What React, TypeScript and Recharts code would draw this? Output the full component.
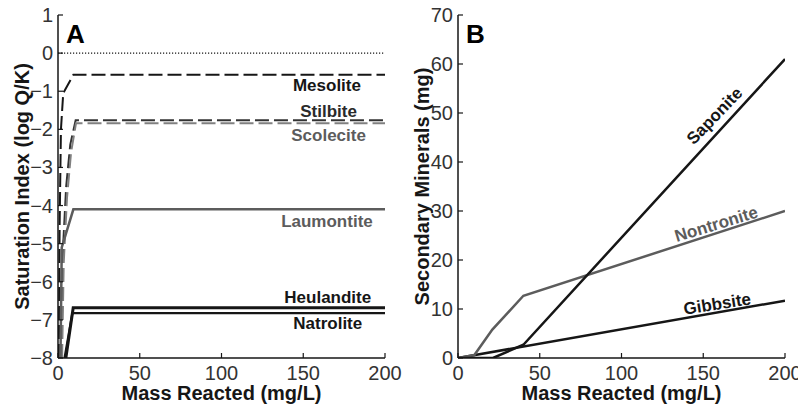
import React from "react";
import {
  LineChart,
  Line,
  XAxis,
  YAxis,
  ReferenceLine,
  ReferenceDot,
  Label,
} from "recharts";

const FONT = "'Liberation Sans', Arial, Helvetica, sans-serif";
const INK = "#161616";
const GREY = "#5c5c5c";
const TICK_LEN = 5;

// shared x axis (mass reacted, mg/L)
const massTicks = [0, 50, 100, 150, 200];

// panel A: saturation index (log Q/K)
const siTicks = [-8, -7, -6, -5, -4, -3, -2, -1, 0, 1];
const mesolite = [
  { x: 0.5, y: -8 },
  { x: 1, y: -4.5 },
  { x: 1.8, y: -2 },
  { x: 3.2, y: -1.05 },
  { x: 9.4, y: -0.57 },
  { x: 200, y: -0.57 },
];
const stilbite = [
  { x: 2, y: -8 },
  { x: 3.2, y: -5 },
  { x: 5, y: -3.5 },
  { x: 7.5, y: -2.4 },
  { x: 10.8, y: -1.76 },
  { x: 200, y: -1.76 },
];
const scolecite = [
  { x: 2.5, y: -8 },
  { x: 3.5, y: -5.5 },
  { x: 5.5, y: -3.8 },
  { x: 8, y: -2.6 },
  { x: 11, y: -1.84 },
  { x: 200, y: -1.84 },
];
const laumontite = [
  { x: 1.5, y: -8 },
  { x: 2.3, y: -5.1 },
  { x: 9.4, y: -4.1 },
  { x: 200, y: -4.1 },
];
const heulandite = [
  { x: 4.8, y: -8 },
  { x: 9.3, y: -6.68 },
  { x: 200, y: -6.68 },
];
const natrolite = [
  { x: 4, y: -8 },
  { x: 8.8, y: -6.82 },
  { x: 200, y: -6.82 },
];
const zeoliteTags = [
  { name: "Mesolite", x: 164.5, y: -0.86, color: INK },
  { name: "Stilbite", x: 165.5, y: -1.54, color: "#2a2a2a" },
  { name: "Scolecite", x: 165.5, y: -2.15, color: GREY },
  { name: "Laumontite", x: 164.5, y: -4.43, color: GREY },
  { name: "Heulandite", x: 165, y: -6.4, color: INK },
  { name: "Natrolite", x: 165, y: -7.09, color: INK },
];

// panel B: secondary minerals (mg)
const mineralTicks = [0, 10, 20, 30, 40, 50, 60, 70];
const saponite = [
  { x: 0, y: 0 },
  { x: 21.4, y: 0 },
  { x: 40, y: 2.7 },
  { x: 200, y: 61 },
];
const nontronite = [
  { x: 0, y: 0 },
  { x: 10, y: 0.6 },
  { x: 21, y: 5.8 },
  { x: 40, y: 12.7 },
  { x: 200, y: 30 },
];
const gibbsite = [
  { x: 0, y: 0 },
  { x: 200, y: 11.7 },
];
const mineralTags = [
  { name: "Saponite", x: 157, y: 49.4, angle: -46, color: INK },
  { name: "Nontronite", x: 158, y: 27.3, angle: -17, color: GREY },
  { name: "Gibbsite", x: 158.5, y: 11.0, angle: -9, color: INK },
];

const fmt = (v: number) => (v < 0 ? `\u2212${Math.abs(v)}` : `${v}`);

function BottomTick(props: any) {
  const { x, y, payload } = props;
  return (
    <g>
      <line x1={x} y1={y} x2={x} y2={y - TICK_LEN} stroke={INK} strokeWidth={1.2} />
      <text
        x={x}
        y={y + 22}
        textAnchor="middle"
        fontSize={20}
        fontFamily={FONT}
        fill="#333"
      >
        {fmt(payload.value)}
      </text>
    </g>
  );
}

function TopTick(props: any) {
  const { x, y } = props;
  return <line x1={x} y1={y} x2={x} y2={y + TICK_LEN} stroke={INK} strokeWidth={1.2} />;
}

function LeftTick(props: any) {
  const { x, y, payload } = props;
  return (
    <g>
      <line x1={x} y1={y} x2={x + TICK_LEN} y2={y} stroke={INK} strokeWidth={1.2} />
      <text
        x={x - 5}
        y={y + 7}
        textAnchor="end"
        fontSize={20}
        fontFamily={FONT}
        fill="#333"
      >
        {fmt(payload.value)}
      </text>
    </g>
  );
}

function RightTick(props: any) {
  const { x, y } = props;
  return <line x1={x} y1={y} x2={x - TICK_LEN} y2={y} stroke={INK} strokeWidth={1.2} />;
}

function XTitle(props: any) {
  const { viewBox, text } = props;
  const cx = viewBox.x + viewBox.width / 2;
  return (
    <text
      x={cx}
      y={viewBox.y + 42}
      textAnchor="middle"
      fontSize={20}
      fontWeight="bold"
      fontFamily={FONT}
      fill={INK}
    >
      {text}
    </text>
  );
}

function YTitle(props: any) {
  const { viewBox, text } = props;
  const cx = viewBox.x + 22;
  const cy = viewBox.y + viewBox.height / 2;
  return (
    <text
      x={cx}
      y={cy}
      transform={`rotate(-90 ${cx} ${cy})`}
      textAnchor="middle"
      dominantBaseline="central"
      fontSize={20}
      fontWeight="bold"
      fontFamily={FONT}
      fill={INK}
    >
      {text}
    </text>
  );
}

function NameTag(props: any) {
  const { cx, cy, text, color, angle = 0 } = props;
  return (
    <text
      x={cx}
      y={cy}
      transform={`rotate(${angle} ${cx} ${cy})`}
      textAnchor="middle"
      dominantBaseline="central"
      fontSize={17}
      fontWeight="bold"
      fontFamily={FONT}
      fill={color}
    >
      {text}
    </text>
  );
}

const axisLine = { stroke: INK, strokeWidth: 1.5 };

function Frame({ yTicks, yDomain, yTitle }: { yTicks: number[]; yDomain: [number, number]; yTitle: string }) {
  return [
    <XAxis
      key="xb"
      xAxisId="b"
      dataKey="x"
      type="number"
      domain={[0, 200]}
      ticks={massTicks}
      interval={0}
      allowDataOverflow
      height={46}
      tickSize={0}
      tickMargin={0}
      tickLine={false}
      axisLine={axisLine}
      tick={BottomTick}
    >
      <Label content={<XTitle text="Mass Reacted (mg/L)" />} />
    </XAxis>,
    <XAxis
      key="xt"
      xAxisId="t"
      orientation="top"
      dataKey="x"
      type="number"
      domain={[0, 200]}
      ticks={massTicks}
      interval={0}
      allowDataOverflow
      height={0}
      tickSize={0}
      tickMargin={0}
      tickLine={false}
      axisLine={axisLine}
      tick={TopTick}
    />,
    <YAxis
      key="yl"
      yAxisId="l"
      type="number"
      domain={yDomain}
      ticks={yTicks}
      interval={0}
      allowDataOverflow
      width={58}
      tickSize={0}
      tickMargin={0}
      tickLine={false}
      axisLine={axisLine}
      tick={LeftTick}
    >
      <Label content={<YTitle text={yTitle} />} />
    </YAxis>,
    <YAxis
      key="yr"
      yAxisId="r"
      orientation="right"
      type="number"
      domain={yDomain}
      ticks={yTicks}
      interval={0}
      allowDataOverflow
      width={0}
      tickSize={0}
      tickMargin={0}
      tickLine={false}
      axisLine={axisLine}
      tick={RightTick}
    />,
  ];
}

const lineProps = {
  xAxisId: "b",
  yAxisId: "l",
  dataKey: "y",
  type: "linear" as const,
  dot: false,
  activeDot: false,
  isAnimationActive: false,
};

export default function App() {
  return (
    <div
      style={{
        position: "absolute",
        left: 0,
        top: 0,
        width: 798,
        height: 404,
        background: "#fff",
        overflow: "hidden",
      }}
    >
      <div style={{ position: "absolute", left: 0, top: 0 }}>
        <LineChart width={420} height={404} margin={{ top: 15, right: 35, bottom: 0, left: 0 }}>
          {Frame({ yTicks: siTicks, yDomain: [-8, 1], yTitle: "Saturation Index (log Q/K)" })}
          <ReferenceLine xAxisId="b" yAxisId="l" y={0} stroke={INK} strokeWidth={1.3} strokeDasharray="1.2 1.8" />
          <Line {...lineProps} data={mesolite} stroke={INK} strokeWidth={2} strokeDasharray="14 5" />
          <Line {...lineProps} data={stilbite} stroke="#333" strokeWidth={2} strokeDasharray="14 5" />
          <Line {...lineProps} data={scolecite} stroke="#808080" strokeWidth={2} strokeDasharray="14 5" />
          <Line {...lineProps} data={laumontite} stroke={GREY} strokeWidth={2.5} />
          <Line {...lineProps} data={heulandite} stroke={INK} strokeWidth={3} />
          <Line {...lineProps} data={natrolite} stroke={INK} strokeWidth={2.2} />
          {zeoliteTags.map((t) => (
            <ReferenceDot
              key={t.name}
              xAxisId="b"
              yAxisId="l"
              x={t.x}
              y={t.y}
              r={0}
              ifOverflow="visible"
              shape={(p: any) => <NameTag {...p} text={t.name} color={t.color} />}
            />
          ))}
        </LineChart>
      </div>
      <div style={{ position: "absolute", left: 400, top: 0 }}>
        <LineChart width={398} height={404} margin={{ top: 15, right: 13, bottom: 0, left: 0 }}>
          {Frame({ yTicks: mineralTicks, yDomain: [0, 70], yTitle: "Secondary Minerals (mg)" })}
          <Line {...lineProps} data={gibbsite} stroke={INK} strokeWidth={2.5} />
          <Line {...lineProps} data={nontronite} stroke={GREY} strokeWidth={2.5} />
          <Line {...lineProps} data={saponite} stroke={INK} strokeWidth={2.5} />
          {mineralTags.map((t) => (
            <ReferenceDot
              key={t.name}
              xAxisId="b"
              yAxisId="l"
              x={t.x}
              y={t.y}
              r={0}
              ifOverflow="visible"
              shape={(p: any) => <NameTag {...p} text={t.name} color={t.color} angle={t.angle} />}
            />
          ))}
        </LineChart>
      </div>
      <svg
        width={798}
        height={404}
        style={{ position: "absolute", left: 0, top: 0, pointerEvents: "none" }}
      >
        <text x={66} y={43} fontSize={26} fontWeight="bold" fontFamily={FONT} fill="#000">
          A
        </text>
        <text x={466} y={43} fontSize={26} fontWeight="bold" fontFamily={FONT} fill="#000">
          B
        </text>
      </svg>
    </div>
  );
}
